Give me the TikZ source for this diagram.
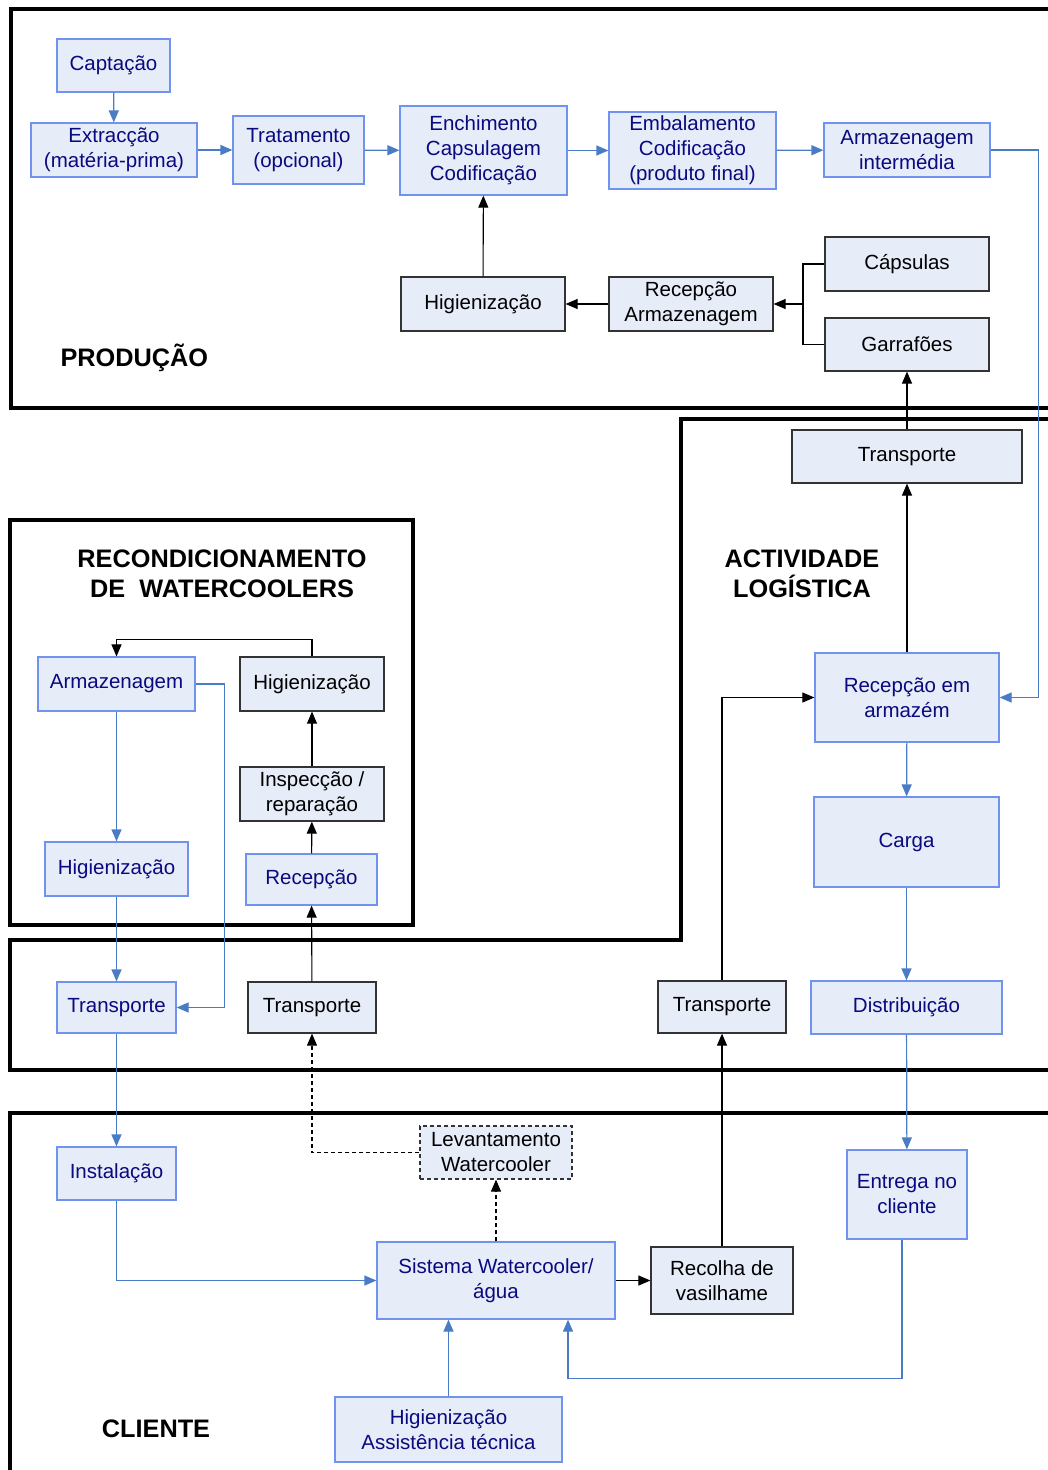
\documentclass[tikz,border=0pt]{standalone}
\usepackage{fontspec}
\setmainfont{Liberation Sans}
\usetikzlibrary{arrows.meta, positioning}
\definecolor{boxFill}{HTML}{E6ECF8}
\definecolor{boxBlue}{HTML}{6F93EE}
\definecolor{lineBlue}{HTML}{4A7CC6}
\definecolor{textNavy}{HTML}{0A0A80}
\definecolor{boxGrey}{HTML}{333333}

\begin{document}
\begin{tikzpicture}[x=1pt, y=-1pt,
    bluestep/.style={rectangle, draw=boxBlue, fill=boxFill, line width=1.2pt,
                 text=textNavy, font=\fontsize{20.5}{25}\selectfont,
                 align=center, inner sep=0pt},
    blackstep/.style={bluestep, draw=boxGrey, text=black},
    dashstep/.style={blackstep, dash pattern=on 4pt off 3pt},
    zone/.style={line width=4pt, draw=black},
    zonelabel/.style={font=\fontsize{25.3}{30}\selectfont\bfseries, align=center},
    bluearrow/.style={draw=lineBlue, line width=1.2pt, -{Triangle[length=12pt, width=10pt]}},
    blackarrow/.style={draw=black, line width=1.1pt, -{Triangle[length=12pt, width=10pt]}},
    dasharrow/.style={blackarrow, dash pattern=on 4pt off 3pt},
    blackline/.style={draw=black, line width=1.1pt},
  ]
    \clip (0,0) rectangle (1048,1470);

    % zones
    \draw[zone] (1060,9) -- (11,9) -- (11,408) -- (1060,408);
    \draw[zone] (1060,419) -- (681,419) -- (681,940) -- (10,940) -- (10,1070) -- (1060,1070);
    \draw[zone] (10,520) rectangle (413,925);
    \draw[zone] (1060,1113) -- (10,1113) -- (10,1480);

    \node[zonelabel, anchor=west] (lblprod) at (57,358) {PRODUÇÃO};
    \node[zonelabel] (lbllog) at (802,574) {ACTIVIDADE\\LOGÍSTICA};
    \node[zonelabel] (lblrec) at (222,574) {RECONDICIONAMENTO\\DE\ \ WATERCOOLERS};
    \node[zonelabel] (lblcli) at (156,1429) {CLIENTE};

    % producao
    \node[bluestep, minimum width=113, minimum height=53] (capt) at (113.5,65.5) {Captação};
    \node[bluestep, minimum width=166, minimum height=54] (extr) at (114,150) {Extracção\\(matéria-prima)};
    \node[bluestep, minimum width=131, minimum height=68] (trat) at (298.5,150) {Tratamento\\(opcional)};
    \node[bluestep, minimum width=167, minimum height=89] (ench) at (483.5,150.5) {Enchimento\\Capsulagem\\Codificação};
    \node[bluestep, minimum width=167, minimum height=77] (emba) at (692.5,150.5) {Embalamento\\Codificação\\(produto final)};
    \node[bluestep, minimum width=166, minimum height=54] (armint) at (907,150) {Armazenagem\\intermédia};
    \node[blackstep, minimum width=164, minimum height=54] (higprod) at (483,304) {Higienização};
    \node[blackstep, minimum width=164, minimum height=54] (recprod) at (691,304) {Recepção\\Armazenagem};
    \node[blackstep, minimum width=164, minimum height=54] (caps) at (907,264) {Cápsulas};
    \node[blackstep, minimum width=164, minimum height=53] (garr) at (907,344.5) {Garrafões};

    % actividade logistica
    \node[blackstep, minimum width=230, minimum height=53] (transtop) at (907,456.5) {Transporte};
    \node[bluestep, minimum width=184, minimum height=89] (recarm) at (907,697.5) {Recepção em\\armazém};
    \node[bluestep, minimum width=185, minimum height=90] (carga) at (906.5,842) {Carga};
    \node[bluestep, minimum width=191, minimum height=53] (distr) at (906.5,1007.5) {Distribuição};
    \node[blackstep, minimum width=128, minimum height=52] (transdir) at (722,1007) {Transporte};

    % recondicionamento
    \node[bluestep, minimum width=157, minimum height=54] (recarmz) at (116.5,684) {Armazenagem};
    \node[blackstep, minimum width=144, minimum height=54] (rechig) at (312,684) {Higienização};
    \node[blackstep, minimum width=144, minimum height=54] (recinsp) at (312,794) {Inspecção /\\reparação};
    \node[bluestep, minimum width=131, minimum height=51] (recrec) at (311.5,879.5) {Recepção};
    \node[bluestep, minimum width=143, minimum height=54] (rechigb) at (116.5,869) {Higienização};
    \node[bluestep, minimum width=119, minimum height=51] (transesq) at (116.5,1007.5) {Transporte};
    \node[blackstep, minimum width=128, minimum height=51] (transmeio) at (312,1007.5) {Transporte};

    % cliente
    \node[bluestep, minimum width=119, minimum height=53] (inst) at (116.5,1173.5) {Instalação};
    \node[dashstep, minimum width=152, minimum height=53] (levant) at (496,1152.5) {Levantamento\\Watercooler};
    \node[bluestep, minimum width=238, minimum height=77] (sist) at (496,1280.5) {Sistema Watercooler/\\água};
    \node[blackstep, minimum width=142, minimum height=67] (recolha) at (722,1280.5) {Recolha de\\vasilhame};
    \node[bluestep, minimum width=120, minimum height=89] (entrega) at (907,1194.5) {Entrega no\\cliente};
    \node[bluestep, minimum width=227, minimum height=65] (higass) at (448.5,1429.5) {Higienização\\Assistência técnica};

    % ligacoes producao
    \draw[bluearrow] (capt) -- (extr);
    \draw[bluearrow] (extr) -- (trat);
    \draw[bluearrow] (trat) -- (ench);
    \draw[bluearrow] (ench) -- (emba);
    \draw[bluearrow] (emba) -- (armint);
    \draw[bluearrow] (armint.east) -- ++(48,0) |- (recarm.east);
    \draw[blackarrow] (higprod) -- (ench);
    \draw[blackarrow] (recprod) -- (higprod);
    \coordinate (junta) at (803,304);
    \draw[blackline] (caps.west) -| (junta) |- (garr.west);
    \draw[blackarrow] (junta) -- (recprod);

    % ligacoes logistica
    \draw[blackarrow] (transtop) -- (garr);
    \draw[blackarrow] (recarm) -- (transtop);
    \draw[bluearrow] (recarm) -- (carga);
    \draw[bluearrow] (carga) -- (distr);
    \draw[bluearrow] (distr) -- (entrega);
    \draw[blackarrow] (transdir.north) |- (recarm.west);

    % ligacoes recondicionamento
    \draw[blackarrow] (rechig.north) -- ++(0,-17) -| (recarmz.north);
    \draw[blackarrow] (recinsp) -- (rechig);
    \draw[blackarrow] (recrec) -- (recinsp);
    \draw[blackarrow] (transmeio) -- (recrec);
    \draw[bluearrow] (recarmz) -- (rechigb);
    \draw[bluearrow] (rechigb) -- (transesq);
    \draw[bluearrow] (recarmz.east) -- ++(29,0) |- (transesq.east);
    \draw[bluearrow] (transesq) -- (inst);

    % ligacoes cliente
    \draw[bluearrow] (inst.south) |- (sist.west);
    \draw[dasharrow] (sist) -- (levant);
    \draw[dasharrow] (levant.west) -| (transmeio.south);
    \draw[blackarrow] (sist) -- (recolha);
    \draw[blackarrow] (recolha) -- (transdir);
    \draw[bluearrow] (higass.north) -- (higass.north |- sist.south);
    \draw[bluearrow] ([xshift=-5pt]entrega.south) -- ++(0,139) -| ([xshift=72pt]sist.south);
  \end{tikzpicture}
\end{document}
